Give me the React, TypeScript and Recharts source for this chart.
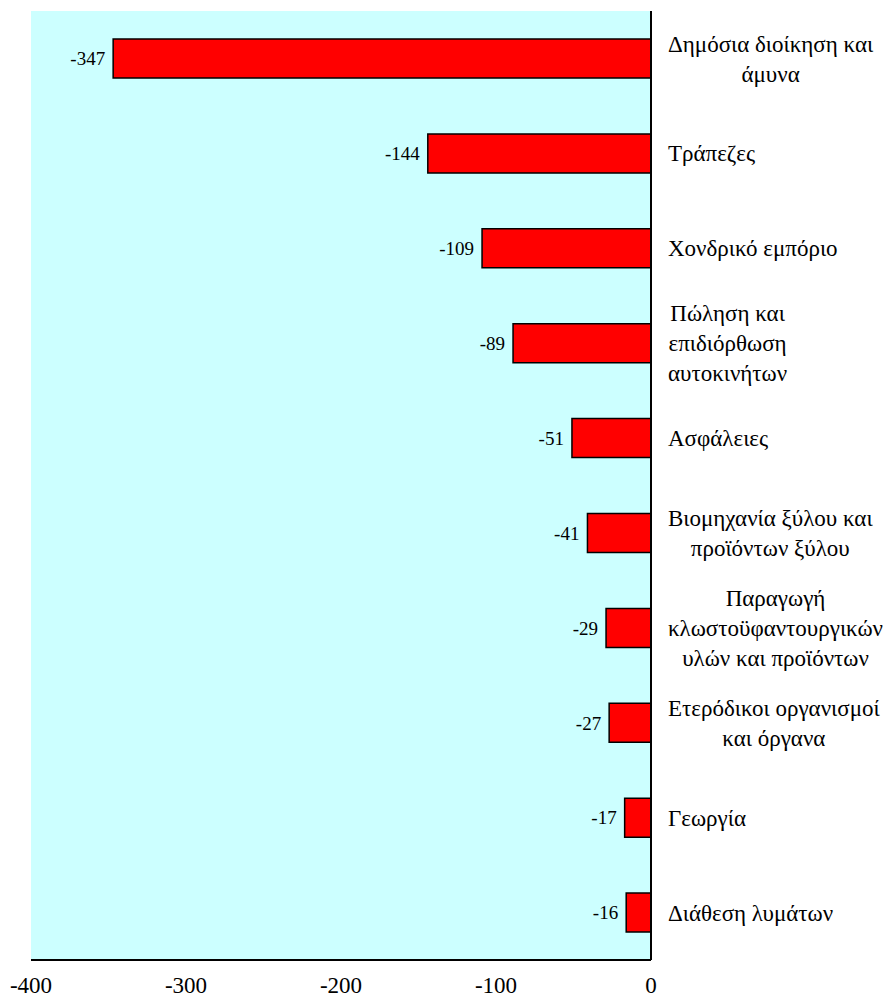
import { Bar, BarChart, CartesianGrid, LabelList, XAxis, YAxis } from "recharts";

const categories = [
  "Δημόσια διοίκηση και\nάμυνα",
  "Τράπεζες",
  "Χονδρικό εμπόριο",
  "Πώληση και\nεπιδιόρθωση\nαυτοκινήτων",
  "Ασφάλειες",
  "Βιομηχανία ξύλου και\nπροϊόντων ξύλου",
  "Παραγωγή\nκλωστοϋφαντουργικών\nυλών και προϊόντων",
  "Ετερόδικοι οργανισμοί\nκαι όργανα",
  "Γεωργία",
  "Διάθεση λυμάτων",
];
const values = [-347, -144, -109, -89, -51, -41, -29, -27, -17, -16];
const xTicks = [-400, -300, -200, -100, 0];
const boundaryTicks = [0, 1, 2, 3, 4, 5, 6, 7, 8, 9, 10];

const data = categories.map((name, i) => ({ name, value: values[i] }));

const FONT = '"Liberation Serif", "DejaVu Serif", serif';
const LABEL_SIZE = 23;
const LINE_H = 30;

let ctx: CanvasRenderingContext2D | null = null;
function textWidth(s: string) {
  if (!ctx) {
    ctx = document.createElement("canvas").getContext("2d");
  }
  if (!ctx) return s.length * 10;
  ctx.font = `${LABEL_SIZE}px ${FONT}`;
  return ctx.measureText(s).width;
}

function CategoryTick(props: any) {
  const { x, y, payload } = props;
  const lines: string[] = String(payload.value).split("\n");
  const maxW = Math.max(...lines.map(textWidth));
  const cx = x + 17 + maxW / 2;
  const y0 = y - ((lines.length - 1) * LINE_H) / 2;
  return (
    <text textAnchor="middle" style={{ fontFamily: FONT }} fontSize={LABEL_SIZE} fill="#000">
      {lines.map((l, i) => (
        <tspan key={i} x={cx} y={y0 + i * LINE_H} dy="0.35em">
          {l}
        </tspan>
      ))}
    </text>
  );
}

export default function App() {
  return (
    <div style={{ position: "absolute", left: 0, top: 0, background: "#fff", fontFamily: FONT }}>
      <BarChart
        width={887}
        height={999}
        data={data}
        layout="vertical"
        margin={{ top: 11, right: 0, bottom: 0, left: 31 }}
      >
        <CartesianGrid fill="#CCFFFF" horizontal={false} vertical={false} xAxisId="val" yAxisId="cat" />
        <XAxis
          xAxisId="val"
          type="number"
          domain={[-400, 0]}
          ticks={xTicks}
          height={39}
          tickLine={false}
          tickSize={0}
          tickMargin={17}
          axisLine={{ stroke: "#000", strokeWidth: 2 }}
          tick={{ fill: "#000", fontSize: 23, fontFamily: FONT }}
        />
        <XAxis
          xAxisId="top"
          orientation="top"
          type="number"
          domain={[-400, 0]}
          height={0}
          tick={false}
          tickLine={false}
          axisLine={{ stroke: "#000", strokeWidth: 2 }}
        />
        <YAxis
          yAxisId="left"
          orientation="left"
          type="category"
          dataKey="name"
          width={0}
          tick={false}
          tickLine={false}
          axisLine={{ stroke: "#000", strokeWidth: 2 }}
        />
        <YAxis
          yAxisId="bounds"
          orientation="right"
          type="number"
          domain={[0, 10]}
          ticks={boundaryTicks}
          width={0}
          tickSize={6}
          tickLine={{ stroke: "#000", strokeWidth: 1 }}
          tickFormatter={() => ""}
          axisLine={false}
        />
        <YAxis
          yAxisId="cat"
          orientation="right"
          type="category"
          dataKey="name"
          width={236}
          tickSize={0}
          tickMargin={0}
          tickLine={false}
          interval={0}
          axisLine={{ stroke: "#000", strokeWidth: 2 }}
          tick={<CategoryTick />}
        />
        <Bar
          dataKey="value"
          xAxisId="val"
          yAxisId="cat"
          fill="#FF0000"
          stroke="#000"
          strokeWidth={1.5}
          barSize={39}
          isAnimationActive={false}
        >
          <LabelList
            dataKey="value"
            position="right"
            offset={8}
            fill="#000"
            fontSize={19}
            fontFamily={FONT}
          />
        </Bar>
      </BarChart>
    </div>
  );
}
